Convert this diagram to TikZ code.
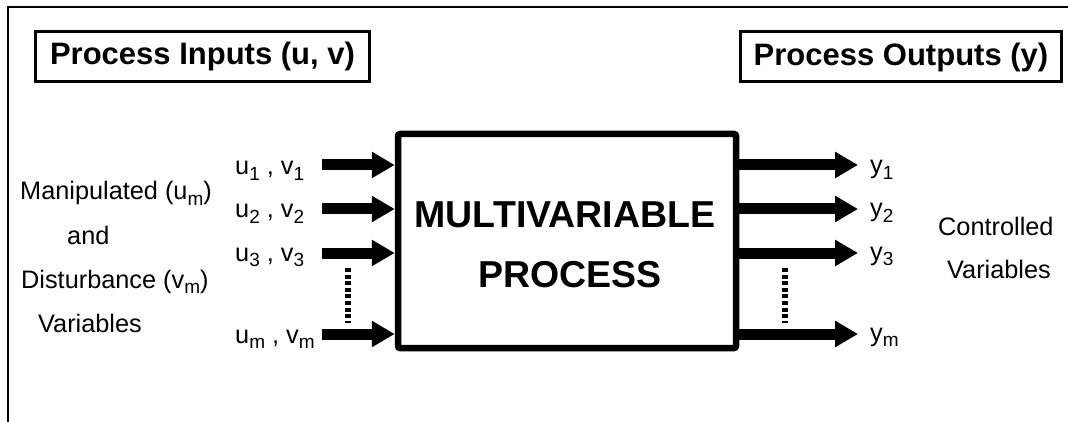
\documentclass[tikz,border=0pt]{standalone}
\usepackage{fontspec}
\setmainfont{Liberation Sans}
\usetikzlibrary{arrows.meta}

% lowered index in the label font
\newcommand{\lowix}[1]{\raisebox{-5.5pt}{\fontsize{19}{19}\selectfont #1}}

\tikzset{
  lbl/.style={inner sep=0pt, anchor=base west, font=\fontsize{25.3}{29}\selectfont},
  headbox/.style={draw, line width=3pt, minimum width=334pt, minimum height=50pt,
                  inner sep=0pt, font=\fontsize{31}{36}\selectfont\bfseries},
  flow/.style={line width=11pt, -{Triangle[length=23pt,width=25pt]}},
  dotline/.style={line width=6pt, dash pattern=on 4pt off 2.6pt}
}

\begin{document}
\begin{tikzpicture}[x=1pt, y=-1pt]
  \useasboundingbox (0,0) rectangle (1068,422);

  % open frame: top and left edges only
  \coordinate (fA) at (8,7);
  \coordinate (fB) at (1068,7);
  \coordinate (fC) at (8,422);
  \draw[line width=2pt] (fC) -- (fA) -- (fB);

  % headings
  \node[headbox, minimum width=334pt] (inhead) at (202.5,56.5) {Process Inputs (u, v)};
  \node[headbox, minimum width=321pt] (outhead) at (901,57) {Process Outputs (y)};

  % the process block
  \node[draw, line width=6.5pt, rounded corners=2pt, minimum width=338pt,
        minimum height=214pt, inner sep=0pt] (proc) at (567,241) {};
  \node[inner sep=0pt, anchor=base, font=\fontsize{37.5}{40}\selectfont\bfseries]
        (procA) at (565,227) {MULTIVARIABLE};
  \node[inner sep=0pt, anchor=base, font=\fontsize{37.5}{40}\selectfont\bfseries]
        (procB) at (570,287) {PROCESS};

  % input arrows
  \coordinate (in1) at (322,165);
  \coordinate (in2) at (322,209);
  \coordinate (in3) at (322,253);
  \coordinate (in4) at (322,334);
  \foreach \i in {1,...,4} {
    \draw[flow] (in\i) -- (in\i -| proc.west);
  }

  % output arrows
  \coordinate (out1) at (858,165);
  \coordinate (out2) at (858,209);
  \coordinate (out3) at (858,253);
  \coordinate (out4) at (858,334);
  \foreach \i in {1,...,4} {
    \draw[flow] (out\i -| proc.east) -- (out\i);
  }

  % ellipsis bars
  \coordinate (dA) at (348,268);
  \coordinate (dB) at (348,323);
  \coordinate (dC) at (785,268);
  \coordinate (dD) at (785,323);
  \draw[dotline] (dA) -- (dB);
  \draw[dotline] (dC) -- (dD);

  % input labels
  \node[lbl] (u1) at (235,175) {u\lowix{1} , v\lowix{1}};
  \node[lbl] (u2) at (235,218) {u\lowix{2} , v\lowix{2}};
  \node[lbl] (u3) at (235,261) {u\lowix{3} , v\lowix{3}};
  \node[lbl] (u4) at (235,343) {u\lowix{m} , v\lowix{m}};

  % output labels
  \node[lbl] (y1) at (870,174) {y\lowix{1}};
  \node[lbl] (y2) at (870,217) {y\lowix{2}};
  \node[lbl] (y3) at (870,260) {y\lowix{3}};
  \node[lbl] (y4) at (870,341) {y\lowix{m}};

  % left side description
  \node[lbl] (dsc1) at (20,200) {Manipulated (u\lowix{m})};
  \node[lbl] (dsc2) at (67,244) {and};
  \node[lbl] (dsc3) at (21,288) {Disturbance (v\lowix{m})};
  \node[lbl] (dsc4) at (38,332) {Variables};

  % right side description
  \node[lbl] (ctl1) at (938,236) {Controlled};
  \node[lbl] (ctl2) at (947,278) {Variables};
\end{tikzpicture}
\end{document}
